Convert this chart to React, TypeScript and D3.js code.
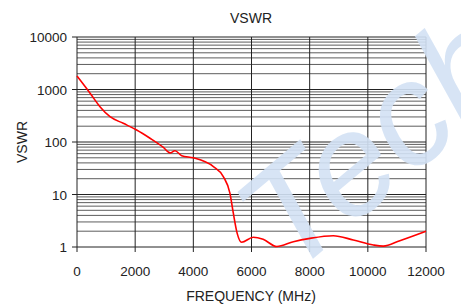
import React from "react";
import * as d3 from "d3";

const freqs = [0, 450, 790, 1135, 1590, 2050, 2510, 2970, 3200, 3370, 3600, 4000, 4690, 5030, 5260, 5375, 5510, 5660, 6060, 6400, 6870, 7440, 8010, 8810, 9500, 10190, 10530, 11100, 12000];
const vswr = [1800, 850, 470, 303, 227, 169, 118, 79, 62, 68, 55, 50, 34, 22, 10.5, 4.4, 1.8, 1.23, 1.53, 1.4, 1.02, 1.26, 1.46, 1.64, 1.36, 1.09, 1.04, 1.32, 2.0];
const xTicks = [0, 2000, 4000, 6000, 8000, 10000, 12000];
const yTicks = [1, 10, 100, 1000, 10000];

const W = 461, H = 307;
const M = { left: 77, right: 426, top: 37, bottom: 247 };

export default function App() {
  const x = d3.scaleLinear().domain([0, 12000]).range([M.left, M.right]);
  const y = d3.scaleLog().domain([1, 10000]).range([M.bottom, M.top]);
  const minor: number[] = [];
  for (let d = 1; d < 10000; d *= 10) for (let k = 2; k <= 9; k++) minor.push(d * k);
  const line = d3.line<number>().x((_, i) => x(freqs[i])).y((v) => y(v)).curve(d3.curveMonotoneX);
  const font = "'Liberation Sans', Arial, sans-serif";
  return (
    <svg width={W} height={H} style={{ position: "absolute", left: 0, top: 0, background: "#fff" }} fontFamily={font}>
      {minor.map((v) => (
        <line key={"m" + v} x1={M.left} x2={M.right} y1={y(v)} y2={y(v)} stroke="#333" strokeWidth={0.8} />
      ))}
      {yTicks.map((v) => (
        <g key={"y" + v}>
          <line x1={M.left - 5} x2={M.right} y1={y(v)} y2={y(v)} stroke="#222" strokeWidth={1} />
          <text x={M.left - 10} y={y(v) + 5} fontSize={13.5} textAnchor="end" fill="#222">{v}</text>
        </g>
      ))}
      {xTicks.map((f) => (
        <g key={"x" + f}>
          <line x1={x(f)} x2={x(f)} y1={M.top} y2={M.bottom + 5} stroke="#222" strokeWidth={1} />
          <text x={x(f)} y={276} fontSize={13.5} textAnchor="middle" fill="#222">{f}</text>
        </g>
      ))}
      <text x={0} y={0} fontSize={145} fontStyle="italic" fill="#d3e2f5" opacity={0.9} fontFamily={font} transform="translate(290,278) rotate(-40)">Tech</text>
      <path d={line(vswr) || ""} fill="none" stroke="#ff0000" strokeWidth={1.6} />
      <text x={251} y={23} fontSize={14} textAnchor="middle" fill="#222">VSWR</text>
      <text x={251} y={301} fontSize={14} textAnchor="middle" fill="#222">FREQUENCY (MHz)</text>
      <text transform="translate(27,142) rotate(-90)" fontSize={14} textAnchor="middle" fill="#222">VSWR</text>
    </svg>
  );
}
